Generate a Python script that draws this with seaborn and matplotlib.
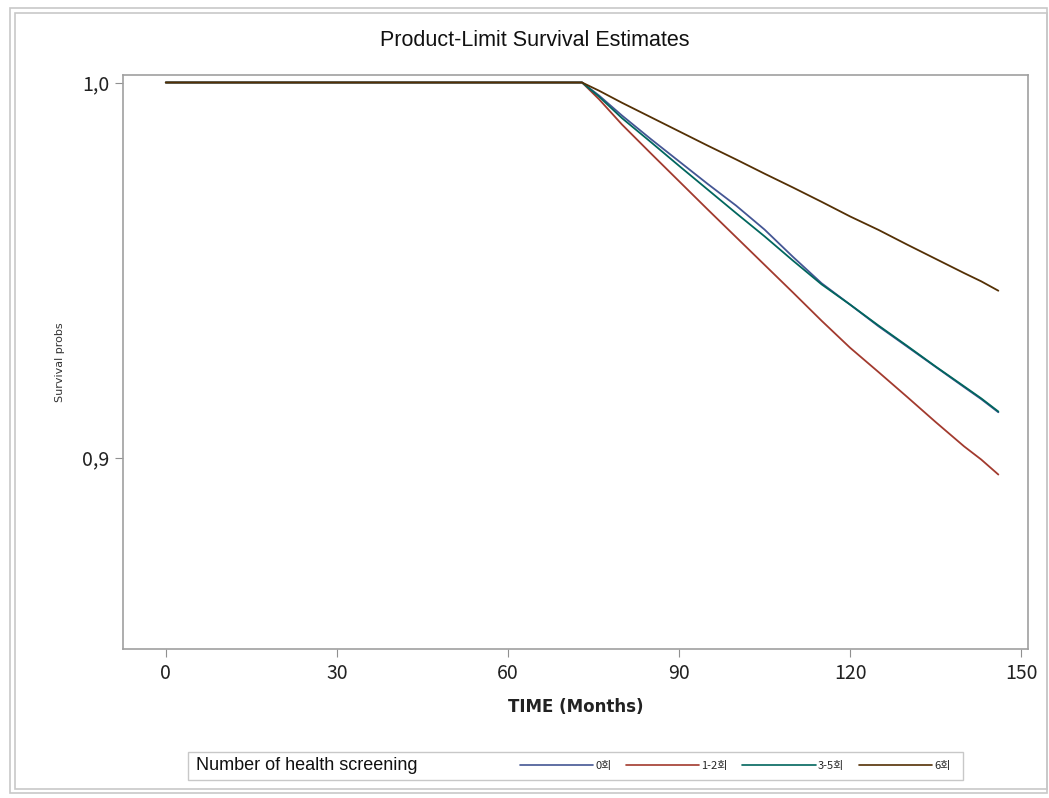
import matplotlib
matplotlib.use('Agg')
import matplotlib.pyplot as plt
from matplotlib.lines import Line2D
from matplotlib.patches import Rectangle
import seaborn as sns
import pandas as pd
import numpy as np

months = [0, 73, 76, 80, 85, 90, 95, 100, 105, 110, 115, 120, 125, 130, 135, 140, 143, 146]

surv_0 = [1.0, 1.0, 0.9965, 0.9912, 0.9850, 0.9790, 0.9730, 0.9672, 0.9608, 0.9535,
          0.9465, 0.9408, 0.9350, 0.9296, 0.9242, 0.9188, 0.9156, 0.9121]
surv_1_2 = [1.0, 1.0, 0.9955, 0.9888, 0.9812, 0.9737, 0.9662, 0.9588, 0.9514, 0.9440,
            0.9365, 0.9293, 0.9228, 0.9162, 0.9095, 0.9030, 0.8995, 0.8955]
surv_3_5 = [1.0, 1.0, 0.9962, 0.9905, 0.9842, 0.9778, 0.9715, 0.9652, 0.9590, 0.9525,
            0.9462, 0.9408, 0.9352, 0.9298, 0.9243, 0.9190, 0.9158, 0.9123]
surv_6 = [1.0, 1.0, 0.9978, 0.9946, 0.9908, 0.9870, 0.9832, 0.9795, 0.9757, 0.9720,
          0.9682, 0.9643, 0.9607, 0.9568, 0.9530, 0.9492, 0.9470, 0.9445]

groups = ['0회', '1-2회', '3-5회', '6회']
colors = ['#445694', '#A23A2E', '#01665E', '#543005']

y_ticks = [0.9, 1.0]
y_tick_labels = ['0,9', '1,0']
x_ticks = [0, 30, 60, 90, 120, 150]

# long-form table for seaborn
frames = []
for g, s in zip(groups, [surv_0, surv_1_2, surv_3_5, surv_6]):
    frames.append(pd.DataFrame({'month': months, 'surv': s, 'group': g}))
df = pd.concat(frames, ignore_index=True)

sns.set_style('white')
plt.rcParams['font.family'] = ['Liberation Sans Narrow', 'Noto Sans CJK KR', 'DejaVu Sans']

W, H = 1049, 798
fig = plt.figure(figsize=(W / 100, H / 100), dpi=100)
ax = fig.add_axes([123 / W, 1 - 649 / H, (1028 - 123) / W, (649 - 75) / H])

sns.lineplot(data=df, x='month', y='surv', hue='group', hue_order=groups,
             palette=colors, linewidth=1.3, legend=False, ax=ax)

ax.set_xlim(-7.5, 151.2)
ax.set_ylim(0.849, 1.002)
ax.set_xticks(x_ticks)
ax.set_xticklabels([str(t) for t in x_ticks], fontsize=14)
ax.set_yticks(y_ticks)
ax.set_yticklabels(y_tick_labels, fontsize=14)
ax.tick_params(axis='both', direction='out', length=6, width=0.8, color='#909090',
               pad=4, labelcolor='#222222', bottom=True, left=True)
for sp in ax.spines.values():
    sp.set_color('#a0a0a0')
    sp.set_linewidth(1.2)

ax.set_xlabel('TIME (Months)', fontsize=12, fontweight='bold', family=['DejaVu Sans'],
              labelpad=10, color='#222222')
ax.set_ylabel('Survival probs', fontsize=8, family=['DejaVu Sans'], color='#333333',
              labelpad=12)

# title
fig.text(535 / W, 1 - 40 / H, 'Product-Limit Survival Estimates', ha='center', va='center',
         fontsize=15.5, family=['Liberation Sans', 'DejaVu Sans'], color='#111111')

# outer double frame
for (x0, y0, x1, y1) in [(10, 8, 1047, 793), (15, 13, 1047, 789)]:
    fig.add_artist(Rectangle((x0 / W, 1 - y1 / H), (x1 - x0) / W, (y1 - y0) / H,
                             transform=fig.transFigure, fill=False,
                             edgecolor='#c8c8c8', linewidth=1.2))

# legend box with title on the left
fig.add_artist(Rectangle((188 / W, 1 - 780 / H), (963 - 188) / W, (780 - 752) / H,
                         transform=fig.transFigure, fill=False,
                         edgecolor='#c8c8c8', linewidth=1.0))
fig.text(196 / W, 1 - 766 / H, 'Number of health screening', ha='left', va='center',
         fontsize=13, family=['Liberation Sans', 'DejaVu Sans'], color='#111111')

handles = [Line2D([0], [0], color=c, linewidth=1.2) for c in colors]
fig.legend(handles, groups, loc='center left', bbox_to_anchor=(514 / W, 1 - 766 / H),
           ncol=4, frameon=False, handlelength=6.6, handletextpad=0.2,
           columnspacing=1.3, borderpad=0,
           prop={'family': ['Noto Sans CJK KR', 'DejaVu Sans'], 'size': 8})

fig.savefig('out.png', dpi=100)
